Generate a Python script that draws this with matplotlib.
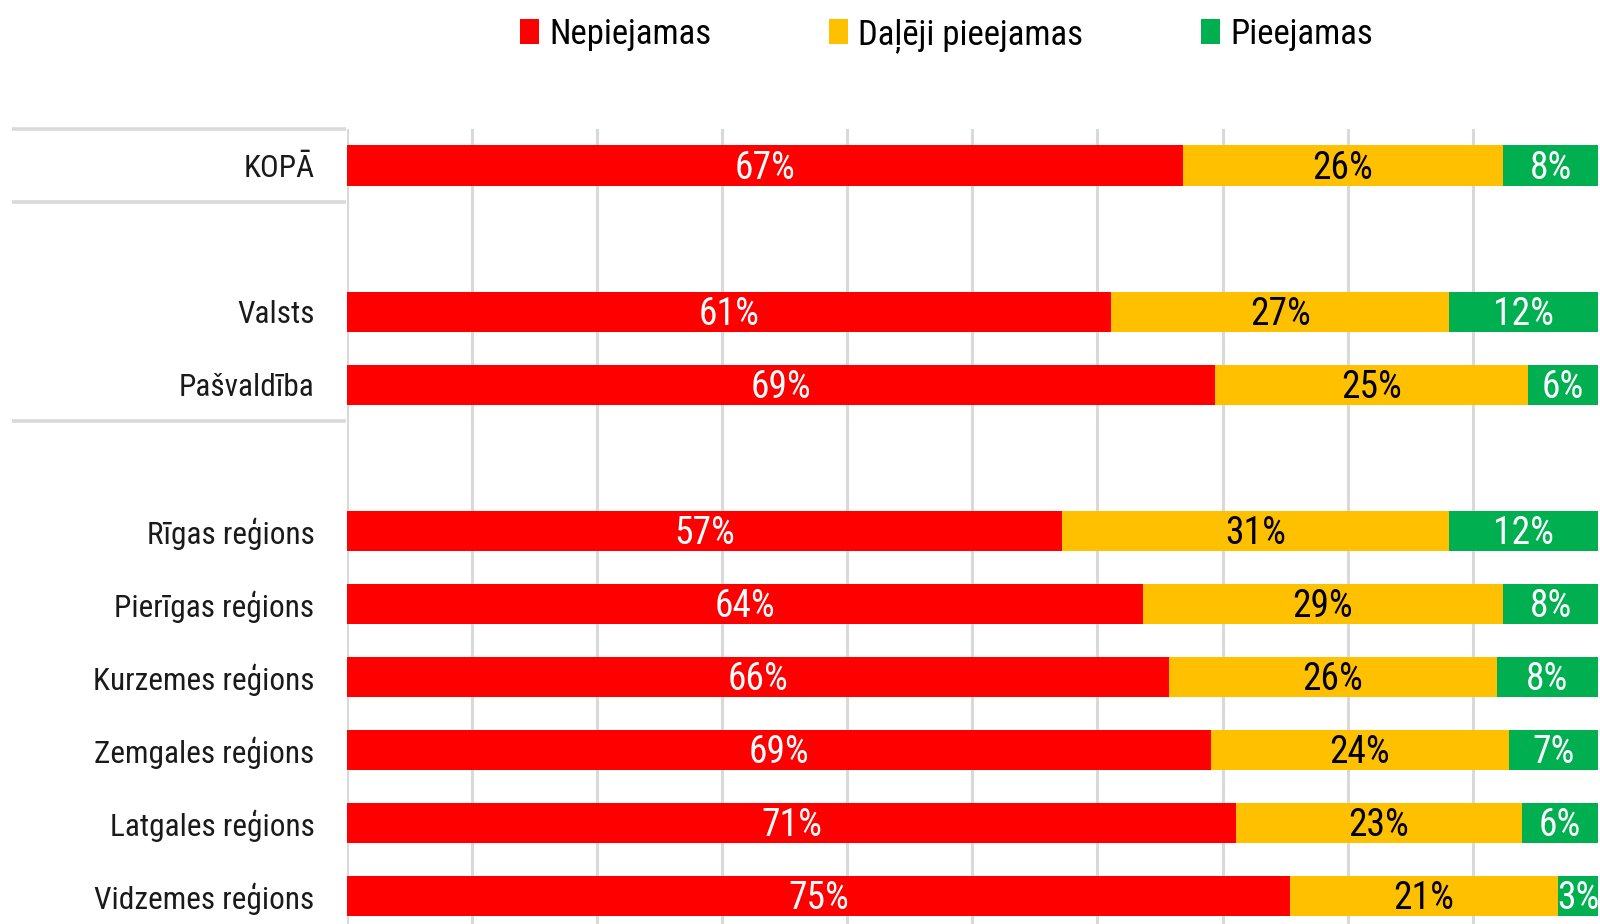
import matplotlib.pyplot as plt
import matplotlib.transforms as mtransforms
from matplotlib import font_manager as fm
from matplotlib.patches import Patch
import numpy as np

# narrow font like Calibri in the original, fall back if not there
have = {f.name for f in fm.fontManager.ttflist}
font = next((f for f in ['Roboto Condensed', 'Carlito', 'Liberation Sans Narrow',
                         'Liberation Sans'] if f in have), 'DejaVu Sans')
plt.rcParams['font.family'] = [font, 'DejaVu Sans']

# rows top to bottom, '' = empty spacer row
categories = ['KOPĀ', '', 'Valsts', 'Pašvaldība', '',
              'Rīgas reģions', 'Pierīgas reģions', 'Kurzemes reģions',
              'Zemgales reģions', 'Latgales reģions', 'Vidzemes reģions']
nepiejamas = [66.8, None, 61.1, 69.4, None, 57.2, 63.6, 65.7, 69.1, 71.1, 75.4]
daleji = [25.6, None, 27.0, 25.0, None, 30.85, 28.8, 26.2, 23.75, 22.8, 21.4]
pieejamas = [7.6, None, 11.9, 5.6, None, 11.95, 7.6, 8.1, 7.15, 6.1, 3.2]

series_names = ['Nepiejamas', 'Daļēji pieejamas', 'Pieejamas']
colors = ['#FF0000', '#FFC000', '#00B050']
label_colors = ['white', 'black', 'white']
grid_col = '#D9D9D9'

fig = plt.figure(figsize=(16, 9.24), dpi=100)
ax = fig.add_axes([0.2166, -0.0092, 0.7822, 0.8696])

y = np.arange(len(categories))
left = np.zeros(len(categories))
for vals, col, lcol in zip([nepiejamas, daleji, pieejamas], colors, label_colors):
    w = np.array([np.nan if v is None else v for v in vals], dtype=float)
    ax.barh(y, np.nan_to_num(w), left=left, height=0.55, color=col, zorder=3)
    for yi, l, wi in zip(y, left, w):
        if not np.isnan(wi):
            ax.text(l + wi / 2, yi + 0.04, f'{wi:.0f}%', ha='center', va='center',
                    color=lcol, fontsize=27, zorder=4)
    left = left + np.nan_to_num(w)

ax.set_xlim(0, 100)
ax.set_ylim(len(categories) - 0.5, -0.5)
ax.set_xticks(np.arange(0, 100, 10))
ax.xaxis.grid(True, color=grid_col, lw=2.2, zorder=0)
ax.tick_params(axis='x', length=0, labelbottom=False)
ax.set_yticks(y)
ax.set_yticklabels(categories, fontsize=22.5, color='#1a1a1a')
ax.tick_params(axis='y', length=0, pad=23)
for s in ax.spines.values():
    s.set_visible(False)

# grey separator lines in the label area
trans = mtransforms.blended_transform_factory(fig.transFigure, ax.transData)
for yb in [-0.5, 0.5, 3.5]:
    ax.plot([12 / 1600, 346 / 1600], [yb, yb], transform=trans, color=grid_col,
            lw=2.6, clip_on=False, solid_capstyle='butt')

handles = [Patch(facecolor=c, edgecolor='none') for c in colors]
fig.legend(handles, series_names, loc='center', bbox_to_anchor=(0.5916, 0.962),
           ncol=3, frameon=False, fontsize=25, handlelength=0.53, handleheight=0.75,
           handletextpad=0.3, columnspacing=3.4)

fig.savefig('out.png', dpi=100)
